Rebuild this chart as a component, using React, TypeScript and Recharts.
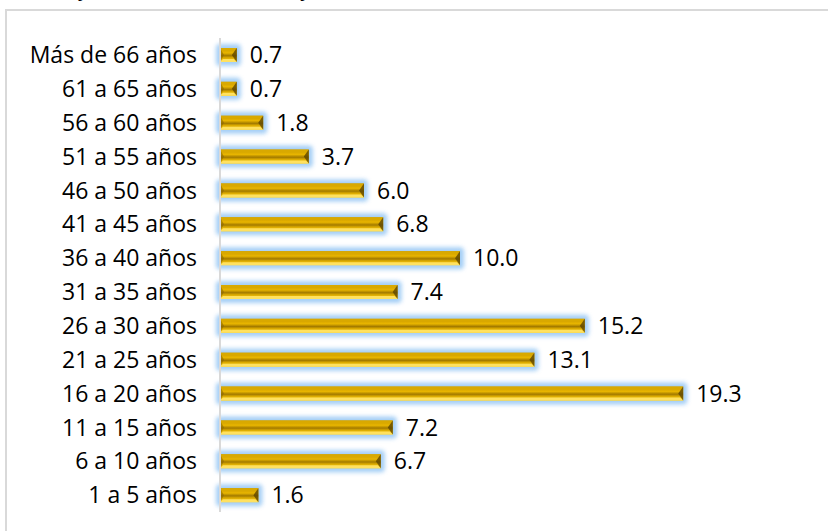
import React from 'react'
import { BarChart, Bar, XAxis, YAxis, LabelList } from 'recharts'

const ageGroups = [
  'Más de 66 años', '61 a 65 años', '56 a 60 años', '51 a 55 años', '46 a 50 años',
  '41 a 45 años', '36 a 40 años', '31 a 35 años', '26 a 30 años', '21 a 25 años',
  '16 a 20 años', '11 a 15 años', '6 a 10 años', '1 a 5 años',
]
const shares = [0.7, 0.7, 1.8, 3.7, 6.0, 6.8, 10.0, 7.4, 15.2, 13.1, 19.3, 7.2, 6.7, 1.6]

const data = ageGroups.map((g, i) => ({ group: g, value: shares[i] }))

const FONT = '"Open Sans", Lato, sans-serif'

// bevelled gold bar with a soft blue glow
const GoldBar = (p: any) => {
  const { x, y, width: w, height: h } = p
  if (!w || w <= 0) return null
  const d = Math.min(3, w / 3)
  return (
    <g>
      <rect x={x - 4} y={y - 4} width={w + 8} height={h + 8} rx={4} fill="#94C6F4" opacity={0.85} filter="url(#glow)" />
      <rect x={x} y={y} width={w} height={h} fill="url(#gold)" />
      <polygon points={`${x},${y} ${x + w},${y} ${x + w - d},${y + d} ${x + d},${y + d}`} fill="#D9A900" />
      <polygon points={`${x},${y + h} ${x + w},${y + h} ${x + w - d},${y + h - d} ${x + d},${y + h - d}`} fill="#FFE160" />
      <polygon points={`${x + w},${y} ${x + w},${y + h} ${x + w - d - 2},${y + h / 2}`} fill="#5E4600" opacity={0.8} />
      <polygon points={`${x},${y} ${x},${y + h} ${x + d + 1},${y + h / 2}`} fill="#8A6800" opacity={0.6} />
    </g>
  )
}

export default function App() {
  return (
    <div style={{ position: 'absolute', left: 0, top: 0, width: 828, height: 531, overflow: 'hidden', background: '#fff', fontFamily: FONT }}>
      <div style={{ position: 'absolute', left: 30, top: -22, fontSize: 21, lineHeight: '20px', whiteSpace: 'nowrap', color: '#000' }}>
        dad, y distribución de edad y territorio (en el total %)
      </div>
      <div style={{ position: 'absolute', left: 5, top: 9, width: 900, height: 600, borderTop: '2px solid #D9D9D9', borderLeft: '2px solid #D9D9D9' }} />
      <div style={{ position: 'absolute', left: 0, top: 0 }}>
        <BarChart width={828} height={531} data={data} layout="vertical" margin={{ top: 38, right: 8, bottom: 19, left: 0 }}>
          <defs>
            <linearGradient id="gold" x1="0" y1="0" x2="0" y2="1">
              <stop offset="0%" stopColor="#C99A00" />
              <stop offset="35%" stopColor="#E8B500" />
              <stop offset="55%" stopColor="#A27A00" />
              <stop offset="70%" stopColor="#DCAB00" />
              <stop offset="100%" stopColor="#F8CC22" />
            </linearGradient>
            <filter id="glow" x="-20%" y="-60%" width="140%" height="220%">
              <feGaussianBlur stdDeviation="2" />
            </filter>
          </defs>
          <XAxis type="number" domain={[0, 25]} hide />
          <YAxis
            type="category"
            dataKey="group"
            width={220}
            tickLine={false}
            tickSize={0}
            tickMargin={23}
            axisLine={{ stroke: '#D9D9D9', strokeWidth: 2 }}
            tick={{ fill: '#000', fontSize: 23, fontFamily: FONT }}
            interval={0}
          />
          <Bar dataKey="value" barSize={14} shape={GoldBar} isAnimationActive={false}>
            <LabelList
              dataKey="value"
              position="right"
              offset={13}
              formatter={(v: any) => Number(v).toFixed(1)}
              style={{ fill: '#000', fontSize: 23, fontFamily: FONT }}
            />
          </Bar>
        </BarChart>
      </div>
    </div>
  )
}
